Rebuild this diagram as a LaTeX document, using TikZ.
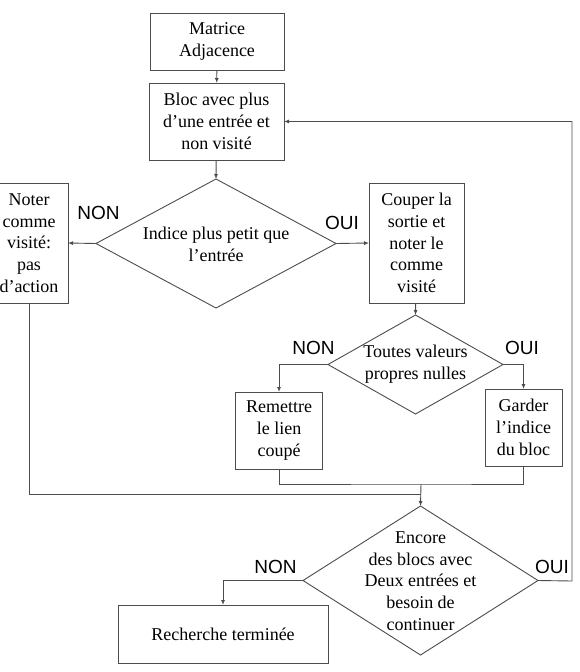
\documentclass[tikz,border=0pt]{standalone}
\usepackage{fontspec}
\setmainfont{Liberation Serif}
\newfontfamily\lblfont{Liberation Sans}
\usetikzlibrary{shapes.geometric,arrows.meta}
\begin{document}
\begin{tikzpicture}[x=1pt,y=-1pt,
  box/.style={draw=black!70, line width=0.9pt, align=center, inner sep=0pt, outer sep=0pt, font=\fontsize{18}{21.8}\selectfont},
  dia/.style={draw=black!70, line width=0.9pt, diamond, inner sep=0pt, outer sep=0pt},
  dtext/.style={align=center, inner sep=0pt, font=\fontsize{18}{21.8}\selectfont},
  lbl/.style={inner sep=0pt, font=\lblfont\fontsize{19}{21}\selectfont},
  line/.style={draw=black!70, line width=0.9pt},
  arr/.style={line, -{Latex[length=5pt,width=4pt]}}
]
\useasboundingbox (0,0) rectangle (580,672);

% boxes
\node[box, minimum width=134pt, minimum height=57pt] (m) at (217,41.5) {Matrice\\Adjacence};
\node[box, minimum width=135pt, minimum height=77pt] (b) at (216.5,121.5) {Bloc avec plus\\d’une entrée et\\non visité};
\node[box, minimum width=78pt, minimum height=120pt] (n) at (29,243) {Noter\\comme\\visité:\\pas\\d’action};
\node[box, minimum width=95pt, minimum height=120pt] (c) at (416.5,243) {Couper la\\sortie et\\noter le\\comme\\visité};
\node[box, minimum width=87pt, minimum height=77pt] (r) at (279,430.5) {Remettre\\le lien\\coupé};
\node[box, minimum width=77pt, minimum height=77pt] (g) at (523.5,427.5) {Garder\\l’indice\\du bloc};
\node[box, minimum width=210pt, minimum height=58pt] (f) at (223,634) {Recherche terminée};

% diamonds
\node[dia, minimum width=240pt, minimum height=129pt] (d1) at (216,243.5) {};
\node[dtext] at (216,244) {Indice plus petit que\\l’entrée};
\node[dia, minimum width=175pt, minimum height=99pt] (d2) at (415.5,364.5) {};
\node[dtext] at (415.5,364.5) {Toutes valeurs\\propres nulles};
\node[dia, minimum width=235pt, minimum height=149pt] (d3) at (420.5,580.5) {};
\node[dtext] at (420.5,581) {Encore\\des blocs avec\\Deux entrées et\\besoin de\\continuer};

% labels
\node[lbl] (l1) at (98.5,212.5) {NON};
\node[lbl] (l2) at (342,223) {OUI};
\node[lbl] (l3) at (313.5,347.5) {NON};
\node[lbl] (l4) at (522,347.5) {OUI};
\node[lbl] (l5) at (275.5,566.5) {NON};
\node[lbl] (l6) at (552,566.5) {OUI};

% helper coordinates
\coordinate (j1) at (421,484);
\coordinate (j2) at (421,494);
\coordinate (rr) at (572,581);

% connectors
\draw[arr] (m) -- (b);
\draw[arr] (b) -- (d1.north);
\draw[arr] (d1.west) -- (n.east);
\draw[arr] (d1.east) -- (c.west);
\draw[arr] (c) -- (d2.north);
\draw[arr] (d2.west) -| (r.north);
\draw[arr] (d2.east) -| (g.north);
\draw[line] (r.south) |- (j1) -| (g.south);
\draw[line] (n.south) |- (j2);
\draw[arr] (j1) -- (d3.north);
\draw[arr] (d3.west) -| (f.north);
\draw[arr] (d3.east) -- (rr) |- (b.east);
\end{tikzpicture}
\end{document}
